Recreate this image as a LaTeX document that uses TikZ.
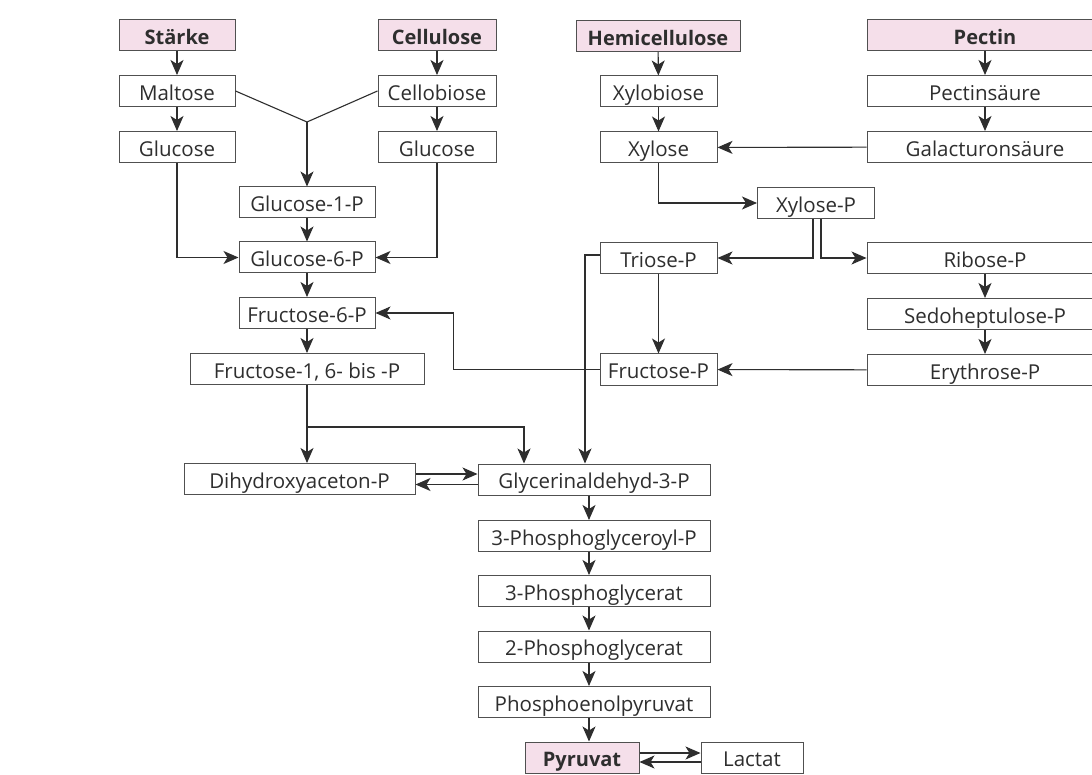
\documentclass[tikz,border=0pt]{standalone}
\usepackage{fontspec}
\setmainfont{Open Sans}
\usetikzlibrary{arrows.meta,calc}
\definecolor{ink}{HTML}{2E2E2E}
\definecolor{rim}{HTML}{505050}
\definecolor{rose}{HTML}{F5DFEA}
\begin{document}
\begin{tikzpicture}[x=1pt,y=-1pt,
  box/.style={draw=rim,line width=1pt,fill=white,minimum height=31pt,inner sep=0pt,
    text height=20pt,text depth=1.5pt,
    font=\fontsize{20.5}{24}\selectfont,text=ink},
  src/.style={box,fill=rose,font=\fontsize{20}{24}\selectfont\bfseries},
  ln/.style={draw=ink,line width=1.1pt},
  arr/.style={ln,-{Stealth[length=15pt,width=13pt,inset=4pt]}}]
\useasboundingbox (0,0) rectangle (1092,775);
\fill[white] (0,0) rectangle (1092,775);

% sources of the carbohydrates
\node[src,minimum width=116pt] (staerke) at (177,35) {Stärke};
\node[src,minimum width=118pt] (cellulose) at (437,35) {Cellulose};
\node[src,minimum width=164pt] (hemi) at (658,36) {Hemicellulose};
\node[src,minimum width=236pt] (pectin) at (985,35) {Pectin};

% starch and cellulose branch
\node[box,minimum width=116pt] (maltose) at (177,91) {Maltose};
\node[box,minimum width=118pt] (cellobiose) at (437,91) {Cellobiose};
\node[box,minimum width=116pt] (glucoseL) at (177,147) {Glucose};
\node[box,minimum width=118pt] (glucoseR) at (437,147) {Glucose};
\node[box,minimum width=136pt] (glc1p) at (307,202.5) {Glucose-1-P};
\node[box,minimum width=136pt] (glc6p) at (307,257.5) {Glucose-6-P};
\node[box,minimum width=136pt] (fru6p) at (307,313) {Fructose-6-P};
\node[box,minimum width=234pt] (fru16) at (307,369) {Fructose-1, 6- bis -P};

% hemicellulose and pectin branch
\node[box,minimum width=117pt] (xylobiose) at (658.5,91.5) {Xylobiose};
\node[box,minimum width=236pt] (pectinsre) at (985,91) {Pectinsäure};
\node[box,minimum width=117pt] (xylose) at (658.5,147.5) {Xylose};
\node[box,minimum width=236pt] (galact) at (985,147) {Galacturonsäure};
\node[box,minimum width=117pt] (xyloseP) at (816,203) {Xylose-P};
\node[box,minimum width=117pt] (trioseP) at (658.5,258) {Triose-P};
\node[box,minimum width=236pt] (riboseP) at (985,258) {Ribose-P};
\node[box,minimum width=236pt] (sedo) at (985,314) {Sedoheptulose-P};
\node[box,minimum width=117pt] (fructoseP) at (658.5,369.5) {Fructose-P};
\node[box,minimum width=236pt] (ery) at (985,370) {Erythrose-P};

% glycolysis trunk
\node[box,minimum width=231pt] (dhap) at (299.5,479) {Dihydroxyaceton-P};
\node[box,minimum width=232pt] (gap) at (594,479.5) {Glycerinaldehyd-3-P};
\node[box,minimum width=232pt] (pgp) at (594,536) {3-Phosphoglyceroyl-P};
\node[box,minimum width=232pt] (pg3) at (594,591) {3-Phosphoglycerat};
\node[box,minimum width=232pt] (pg2) at (594,646.5) {2-Phosphoglycerat};
\node[box,minimum width=232pt] (pep) at (594,702) {Phosphoenolpyruvat};
\node[src,minimum width=114pt] (pyr) at (582,757.5) {Pyruvat};
\node[box,minimum width=102pt] (lactat) at (752,757.5) {Lactat};

% starch / cellulose connectors
\draw[arr] (staerke) -- (maltose);
\draw[arr] (maltose) -- (glucoseL);
\draw[arr] (cellulose) -- (cellobiose);
\draw[arr] (cellobiose) -- (glucoseR);
\coordinate (join) at (307,122);
\draw[ln] (maltose.east) -- (join) -- (cellobiose.west);
\draw[arr] (join) -- (glc1p.north);
\draw[arr] (glucoseL.south) |- (glc6p.west);
\draw[arr] (glucoseR.south) |- (glc6p.east);
\draw[arr] (glc1p) -- (glc6p);
\draw[arr] (glc6p) -- (fru6p);
\draw[arr] (fru6p) -- (fru16);

% splitting of fructose-1,6-bisphosphate
\coordinate (split) at (307,427);
\draw[ln] (fru16.south) -- (split);
\draw[arr] (split) -- (split |- dhap.north);
\draw[arr] (split) -| ($(gap.north)+(-70,0)$);
\draw[arr] ([yshift=5pt]dhap.east) -- ([yshift=5pt]dhap.east -| gap.west);
\draw[arr] ([yshift=-5pt]gap.west) -- ([yshift=-5pt]gap.west -| dhap.east);

% lower glycolysis
\draw[arr] ([xshift=-5pt]gap.south) -- ([xshift=-5pt]pgp.north);
\draw[arr] ([xshift=-5pt]pgp.south) -- ([xshift=-5pt]pg3.north);
\draw[arr] ([xshift=-5pt]pg3.south) -- ([xshift=-5pt]pg2.north);
\draw[arr] ([xshift=-5pt]pg2.south) -- ([xshift=-5pt]pep.north);
\draw[arr] ([xshift=-5pt]pep.south) -- ([xshift=-5pt]pep.south |- pyr.north);
\draw[arr] ([yshift=4.5pt]pyr.east) -- ([yshift=4.5pt]pyr.east -| lactat.west);
\draw[arr] ([yshift=-4.5pt]lactat.west) -- ([yshift=-4.5pt]lactat.west -| pyr.east);

% hemicellulose / pectin connectors
\draw[arr] (hemi) -- (xylobiose);
\draw[arr] (xylobiose) -- (xylose);
\draw[arr] (pectin) -- (pectinsre);
\draw[arr] (pectinsre) -- (galact);
\draw[arr] (galact) -- (xylose);
\draw[arr] (xylose.south) |- (xyloseP.west);
\draw[arr] ([xshift=-3pt]xyloseP.south) |- (trioseP.east);
\draw[arr] ([xshift=5pt]xyloseP.south) |- (riboseP.west);
\draw[arr] (riboseP) -- (sedo);
\draw[arr] (sedo) -- (ery);
\draw[arr] (ery) -- (fructoseP);
\draw[arr] (trioseP) -- (fructoseP);
\draw[arr] ([yshift=3pt]trioseP.west) -| ($(gap.north)+(-9,0)$);
\draw[arr] (fructoseP.west) -- ++(-146,0) |- (fru6p.east);
\end{tikzpicture}
\end{document}
